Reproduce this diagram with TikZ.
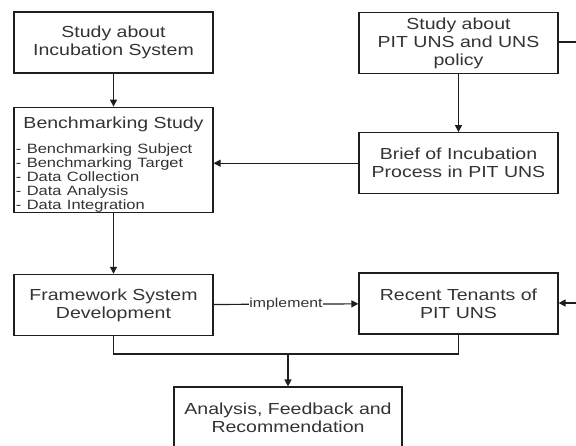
\documentclass[tikz,border=0pt]{standalone}
\usepackage{fontspec}
\setmainfont{Liberation Sans}[FakeStretch=1.22]
\usetikzlibrary{positioning}
\usetikzlibrary{arrows.meta}

\definecolor{inkgray}{HTML}{333333}
\definecolor{linegray}{HTML}{1E1E1E}

\begin{document}
\begin{tikzpicture}
		[x=1pt, y=-1pt,
		stage/.style={rectangle, draw=linegray, line width=1.2pt, text=inkgray, minimum width=199pt, minimum height=61pt, align=center, inner sep=2pt, font=\fontsize{16}{18}\selectfont},
		flow/.style={draw=linegray, line width=1.2pt},
		tip/.style={-{Triangle[length=7pt, width=7pt]}}]
		\useasboundingbox (0,0) rectangle (576,445);

		\node[stage] (incub) at (113.5,42.5) {Study about\\Incubation System};
		\node[stage, minimum height=105pt, text width=195pt, align=left, below=33pt of incub] (bench)
			{\centering Benchmarking Study\par\vspace{11.5pt}
			{\raggedright\fontsize{13.5}{14}\selectfont
			- Benchmarking Subject\\
			- Benchmarking Target\\
			- Data Collection\\
			- Data Analysis\\
			- Data Integration\par}\vspace{-9.5pt}};
		\node[stage, below=61pt of bench] (frame) {Framework System\\Development};

		\node[stage] (pitstudy) at (458.5,43) {Study about\\PIT UNS and UNS\\policy};
		\node[stage, below=58pt of pitstudy] (brief) {Brief of Incubation\\Process in PIT UNS};
		\node[stage, below=78pt of brief] (tenants) {Recent Tenants of\\PIT UNS};

		\node[stage, minimum width=228pt, minimum height=62pt] (analysis) at (288,418) {Analysis, Feedback and\\Recommendation};

		\coordinate (outtop) at (576,42);
		\coordinate (outmid) at (576,303);
		\coordinate (join) at (analysis.north |- 0,354);

		\draw[flow, tip] (incub) to (bench);
		\draw[flow, tip] (pitstudy) to (brief);
		\draw[flow, tip] (brief.west) to (brief.west -| bench.east);
		\draw[flow, tip] (bench) to (frame);
		\draw[flow, tip] (frame) to node[fill=white, inner sep=0.5pt, text=inkgray, font=\fontsize{13}{14}\selectfont] {implement} (tenants);
		\draw[flow] (pitstudy.east |- outtop) to (outtop);
		\draw[flow, tip] (outmid) to (tenants.east |- outmid);
		\draw[flow] (frame.south) |- (join) -| (tenants.south);
		\draw[flow, tip] (join) to (analysis.north);
	\end{tikzpicture}
\end{document}
